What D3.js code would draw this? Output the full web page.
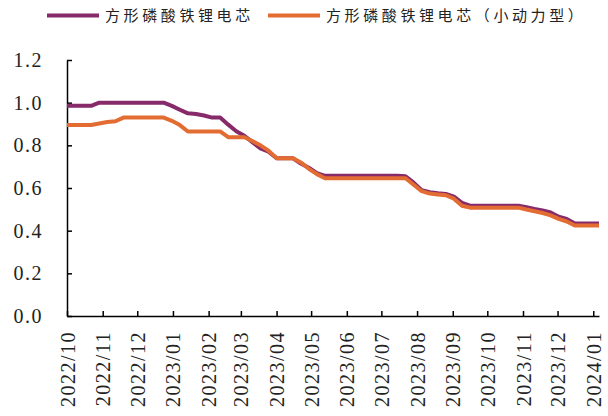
<!DOCTYPE html>
<html>
<head>
<meta charset="utf-8">
<script src="https://cdn.jsdelivr.net/npm/d3@7"></script>
<style>
  body { margin: 0; background: #fff; }
  .ejes text { font-family: 'Liberation Serif', 'Times New Roman', serif; fill: #222; }
  .ejes path, .ejes line { stroke: #000; stroke-width: 1.5; }
  .leyenda text { font-family: 'Noto Sans CJK SC', sans-serif; font-size: 15px; fill: #222; letter-spacing: 3.6px; }
</style>
</head>
<body>
<div id="graf"></div>
<script>
// datos semanales
const fechas = [
  '2022-10-01', '2022-10-08', '2022-10-15', '2022-10-22', '2022-10-29', '2022-11-05', '2022-11-12',
  '2022-11-19', '2022-11-26', '2022-12-03', '2022-12-10', '2022-12-17', '2022-12-24', '2022-12-31',
  '2023-01-07', '2023-01-14', '2023-01-21', '2023-01-28', '2023-02-04', '2023-02-11', '2023-02-18',
  '2023-02-25', '2023-03-04', '2023-03-11', '2023-03-18', '2023-03-25', '2023-04-01', '2023-04-08',
  '2023-04-15', '2023-04-22', '2023-04-29', '2023-05-06', '2023-05-13', '2023-05-20', '2023-05-27',
  '2023-06-03', '2023-06-10', '2023-06-17', '2023-06-24', '2023-07-01', '2023-07-08', '2023-07-15',
  '2023-07-22', '2023-07-29', '2023-08-05', '2023-08-12', '2023-08-19', '2023-08-26', '2023-09-02',
  '2023-09-09', '2023-09-16', '2023-09-23', '2023-09-30', '2023-10-07', '2023-10-14', '2023-10-21',
  '2023-10-28', '2023-11-04', '2023-11-11', '2023-11-18', '2023-11-25', '2023-12-02', '2023-12-09',
  '2023-12-16', '2023-12-23', '2023-12-30', '2024-01-06'
]

const cuadrado = [
  0.985, 0.985, 0.985, 0.985, 1.0, 1.0, 1.0, 1.0, 1.0, 1.0, 1.0, 1.0, 1.0,
  0.985, 0.967, 0.95, 0.947, 0.94, 0.93, 0.93, 0.897, 0.866, 0.845, 0.815, 0.786, 0.77,
  0.74, 0.74, 0.74, 0.715, 0.695, 0.67, 0.657,
  0.657, 0.657, 0.657, 0.657, 0.657, 0.657, 0.657, 0.657, 0.657,
  0.655, 0.625, 0.59, 0.58, 0.575, 0.572, 0.56, 0.53,
  0.517, 0.517, 0.517, 0.517, 0.517, 0.517, 0.517,
  0.51, 0.502, 0.495, 0.485, 0.465, 0.455,
  0.434, 0.434, 0.434, 0.434
]

const pequeno = [
  0.895, 0.895, 0.895, 0.895, 0.902, 0.909, 0.913, 0.93, 0.93, 0.93, 0.93, 0.93, 0.93,
  0.915, 0.895, 0.865, 0.865, 0.865, 0.865, 0.865, 0.838, 0.838, 0.838, 0.82, 0.80, 0.775,
  0.74, 0.74, 0.74, 0.72, 0.69, 0.665, 0.646,
  0.646, 0.646, 0.646, 0.646, 0.646, 0.646, 0.646, 0.646, 0.646, 0.646,
  0.615, 0.585, 0.574, 0.57, 0.566, 0.55, 0.517,
  0.508, 0.508, 0.508, 0.508, 0.508, 0.508, 0.508,
  0.499, 0.491, 0.483, 0.472, 0.455, 0.443,
  0.424, 0.424, 0.424, 0.424
]

const nombres = ['方形磷酸铁锂电芯', '方形磷酸铁锂电芯（小动力型）']
const colores = ['#862a6a', '#e36c33']
const meses = [
  '2022/10', '2022/11', '2022/12', '2023/01', '2023/02', '2023/03', '2023/04', '2023/05',
  '2023/06', '2023/07', '2023/08', '2023/09', '2023/10', '2023/11', '2023/12', '2024/01'
]
const ticksY = [0, 0.2, 0.4, 0.6, 0.8, 1.0, 1.2]

const anchoTotal = 608
const altoTotal = 416
const margin = { top: 60, left: 67, right: 9, bottom: 100 }
const ancho = anchoTotal - margin.left - margin.right
const alto = altoTotal - margin.top - margin.bottom

const svg = d3.select('#graf')
  .append('svg')
  .attr('width', anchoTotal)
  .attr('height', altoTotal)

const g = svg.append('g')
  .attr('transform', `translate(${margin.left}, ${margin.top})`)

const parseFecha = d3.utcParse('%Y-%m-%d')
const parseMes = d3.utcParse('%Y/%m')
const dias = fechas.map(parseFecha)

const x = d3.scaleUtc()
  .domain(d3.extent(dias))
  .range([0, ancho])

const y = d3.scaleLinear()
  .domain([0, 1.2])
  .range([alto, 0])

const xAxisGroup = g.append('g')
  .attr('class', 'ejes')
  .attr('transform', `translate(0, ${alto})`)
  .call(
    d3.axisBottom(x)
      .tickValues(meses.map(parseMes))
      .tickFormat(d3.utcFormat('%Y/%m'))
      .tickSize(-5)
      .tickSizeOuter(0)
  )

xAxisGroup.selectAll('text')
  .attr('font-size', 20)
  .attr('letter-spacing', 1.5)
  .attr('text-anchor', 'end')
  .attr('transform', 'rotate(-90)')
  .attr('x', -15)
  .attr('y', 0)
  .attr('dy', '0.35em')

const yAxisGroup = g.append('g')
  .attr('class', 'ejes')
  .call(
    d3.axisLeft(y)
      .tickValues(ticksY)
      .tickFormat(d3.format('.1f'))
      .tickSize(-5)
      .tickSizeOuter(0)
  )

yAxisGroup.selectAll('text')
  .attr('font-size', 20)
  .attr('letter-spacing', 1.5)
  .attr('x', -24)

const series = [cuadrado, pequeno]

const linea = d3.line()
  .x((d, i) => x(dias[i]))
  .y(d => y(d))

g.selectAll('path.serie')
  .data(series)
  .enter()
  .append('path')
  .attr('class', 'serie')
  .attr('d', d => linea(d))
  .attr('fill', 'none')
  .attr('stroke', (d, i) => colores[i])
  .attr('stroke-width', 4)
  .attr('stroke-linejoin', 'round')

// leyenda
const posLeyenda = [47, 268]
const leyenda = svg.append('g')
  .attr('class', 'leyenda')
  .selectAll('g')
  .data(nombres)
  .enter()
  .append('g')
  .attr('transform', (d, i) => `translate(${posLeyenda[i]}, 15.5)`)

leyenda.append('line')
  .attr('x1', 0)
  .attr('x2', 52)
  .attr('stroke', (d, i) => colores[i])
  .attr('stroke-width', 4)

leyenda.append('text')
  .attr('x', 58)
  .attr('dy', '0.35em')
  .text(d => d)
</script>
</body>
</html>
